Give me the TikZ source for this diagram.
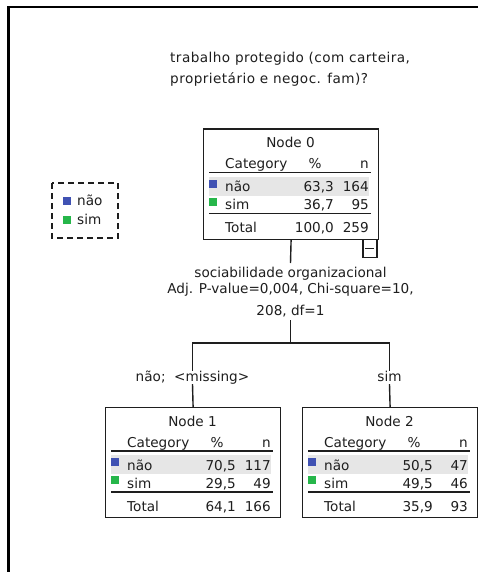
\documentclass[tikz,border=0pt]{standalone}
\usepackage{fontspec}
\setmainfont{DejaVu Sans}
\usetikzlibrary{calc}
\definecolor{catblue}{RGB}{64,82,179}
\definecolor{catgreen}{RGB}{38,182,74}
\definecolor{rowgrey}{RGB}{230,230,230}
\definecolor{ink}{RGB}{30,30,30}
\tikzset{
  txt/.style={inner sep=0pt, font=\fontsize{13.6}{16}\selectfont, text=ink},
  nodebox/.style={draw=ink, line width=1.2pt, minimum width=175pt, minimum height=110pt, inner sep=0pt},
  rulel/.style={draw=ink, line width=1.6pt},
  conn/.style={draw=ink, line width=1.4pt},
  brlabel/.style={inner sep=0pt, text height=10pt, text depth=3pt, font=\fontsize{13.6}{16}\selectfont, text=ink},
}
% name, position, title, p1, n1, p2, n2, pt, nt
\newcommand{\ctnode}[9]{%
\begin{scope}[shift={(#2)}]
  \fill[rowgrey] (6,48) rectangle (166,67);
  \node[nodebox, anchor=north west] (#1) at (0,0) {};
  \node[txt, anchor=base] (#1-title) at (87.5,19) {#3};
  \node[txt, anchor=base west] (#1-cat) at (22,40) {Category};
  \node[txt, anchor=base] (#1-pct) at (112,40) {\%};
  \node[txt, anchor=base east] (#1-n) at (166,40) {n};
  \draw[rulel] (6,44) -- (168,44);
  \fill[catblue] (6,51) rectangle (14,59);
  \node[txt, anchor=base west] (#1-r1) at (22,63) {não};
  \node[txt, anchor=base east] (#1-r1p) at (131,63) {#4};
  \node[txt, anchor=base east] (#1-r1n) at (166,63) {#5};
  \fill[catgreen] (6,69) rectangle (14,77);
  \node[txt, anchor=base west] (#1-r2) at (22,81) {sim};
  \node[txt, anchor=base east] (#1-r2p) at (131,81) {#6};
  \node[txt, anchor=base east] (#1-r2n) at (166,81) {#7};
  \draw[rulel] (6,85) -- (168,85);
  \node[txt, anchor=base west] (#1-tot) at (22,104) {Total};
  \node[txt, anchor=base east] (#1-totp) at (131,104) {#8};
  \node[txt, anchor=base east] (#1-totn) at (166,104) {#9};
\end{scope}}
\begin{document}
\begin{tikzpicture}[x=1pt,y=-1pt]
\useasboundingbox (0,0) rectangle (478,572);
\fill[white] (0,0) rectangle (478,572);
% frame
\draw[line width=2.5pt, black] (8.5,572) -- (8.5,7) -- (478,7);

% title
\node[txt, anchor=base west, align=left, font=\fontsize{13.6}{21}\selectfont\addfontfeatures{LetterSpace=3.3}] (question) at (170,84)
  {trabalho protegido (com carteira,\\proprietário e negoc. fam)?};

% legend
\draw[ink, line width=1.4pt, dash pattern=on 6pt off 4pt] (52,183) rectangle (118,238);
\fill[catblue] (63,197) rectangle (71,205);
\node[txt, anchor=base west] (leg1) at (77,205) {não};
\fill[catgreen] (63,216) rectangle (71,224);
\node[txt, anchor=base west] (leg2) at (77,224) {sim};

% nodes
\ctnode{n0}{203,128.5}{Node 0}{63,3}{164}{36,7}{95}{100,0}{259}
\ctnode{n1}{105,407}{Node 1}{70,5}{117}{29,5}{49}{64,1}{166}
\ctnode{n2}{302,407}{Node 2}{50,5}{47}{49,5}{46}{35,9}{93}

% collapse box
\node[draw=ink, line width=1.2pt, minimum width=14pt, minimum height=18pt, inner sep=0pt, anchor=north east] (minus0) at (377.5,238.5) {};
\draw[ink, line width=1.2pt] ($(minus0.center)+(-4.5,0)$) -- ($(minus0.center)+(4.5,0)$);

% split label
\node[txt, anchor=base] (split1) at (290.5,277) {sociabilidade organizacional};
\node[txt, anchor=base] (split2) at (290.5,293) {Adj. P-value=0,004, Chi-square=10,};
\node[txt, anchor=base] (split3) at (290.5,315) {208, df=1};
\coordinate (splittop) at (290.5,263);
\coordinate (splitbot) at (290.5,320);
\coordinate (fork) at (290.5,343);

\draw[conn] (n0.south) -- (splittop);
\draw[conn] (splitbot) -- (fork);

% branch labels
\node[brlabel, anchor=base] (lab1) at (192.5,381) {não;\ \ \textless missing\textgreater};
\node[brlabel, anchor=base] (lab2) at (389.5,381) {sim};

\draw[conn] (lab1.north) |- (fork) -| (lab2.north);
\draw[conn] (lab1.south) -- (n1.north);
\draw[conn] (lab2.south) -- (n2.north);
\end{tikzpicture}
\end{document}
